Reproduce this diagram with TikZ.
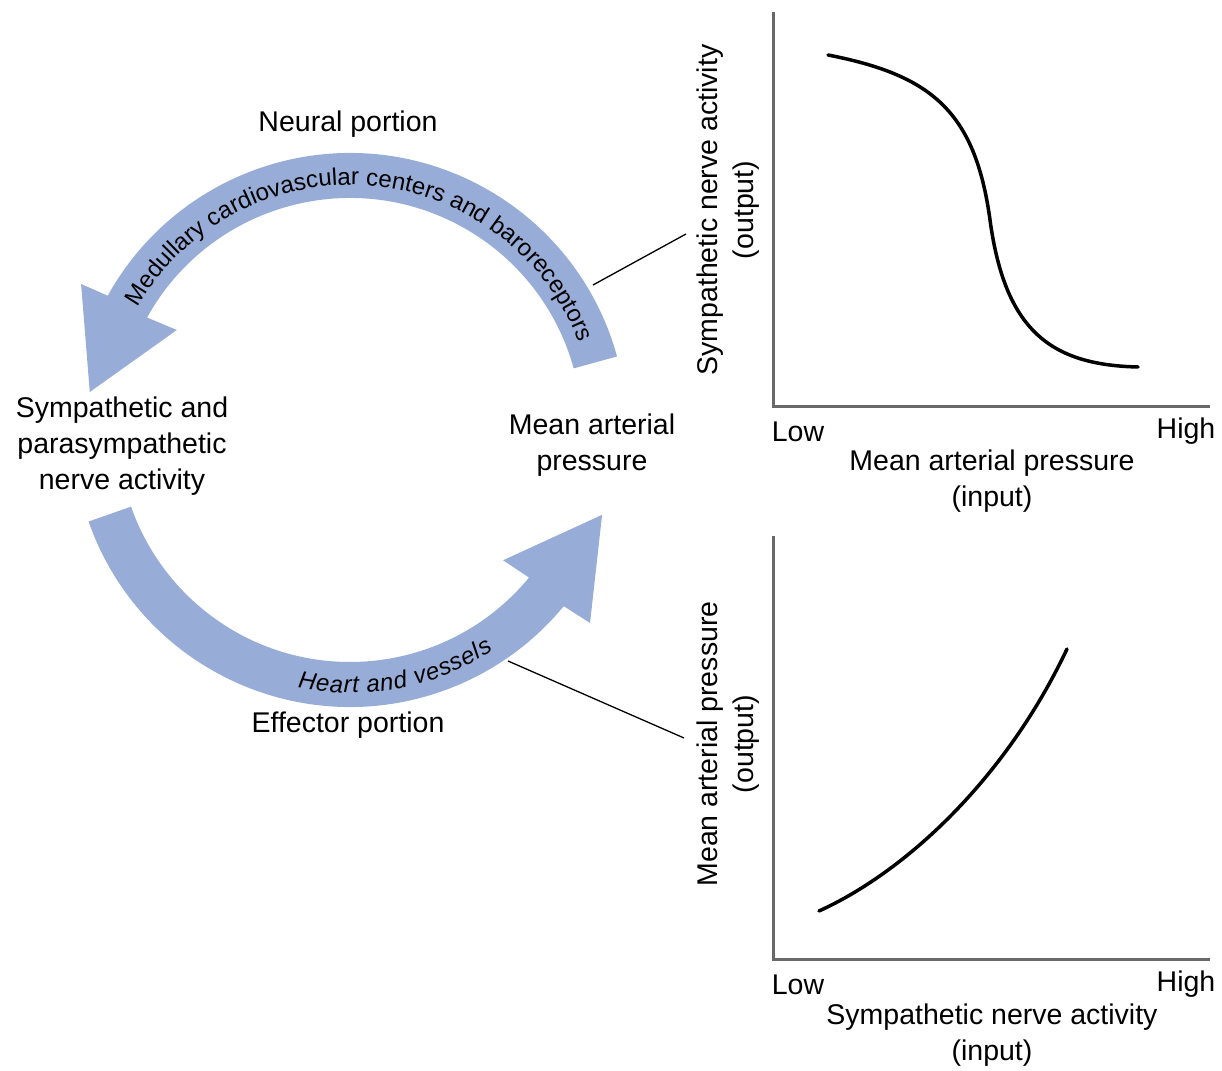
\documentclass[tikz,border=0pt]{standalone}
\usepackage{fontspec}
\setmainfont{Liberation Sans}
\usetikzlibrary{decorations.text}
\definecolor{band}{RGB}{151,173,216}
\definecolor{axisgray}{RGB}{105,105,105}
\begin{document}
\begin{tikzpicture}[x=1pt,y=1pt,
  lbl/.style={font=\fontsize{28.5}{36}\selectfont, align=center, inner sep=0pt},
  axisline/.style={draw=axisgray, line width=3pt},
  curve/.style={draw=black, line width=3.5pt, line cap=round},
  leader/.style={draw=black, line width=1.3pt},
  bandfill/.style={fill=band, draw=none}]
\useasboundingbox (0,0) rectangle (1222,1070);
\coordinate (C) at (350,640);

% neural (upper) band with arrowhead
\path[bandfill] ([shift={(15.4:277)}]C) arc[start angle=15.4, end angle=151, radius=277]
  -- ([shift={(151.5:306)}]C) -- ([shift={(171.7:263)}]C) -- ([shift={(150:200)}]C)
  -- ([shift={(151:232)}]C) arc[start angle=151, end angle=15.4, radius=232] -- cycle;

% effector (lower) band with arrowhead
\path[bandfill] ([shift={(199.3:277)}]C) arc[start angle=199.3, end angle=320.5, radius=277]
  -- ([shift={(321.2:308)}]C) -- ([shift={(341.4:266)}]C) -- ([shift={(319.6:201)}]C)
  -- ([shift={(320.5:232)}]C) arc[start angle=320.5, end angle=199.3, radius=232] -- cycle;

% text along the bands
\path[decorate, decoration={text along path,
   text={|\fontsize{24}{24}\selectfont|Medullary cardiovascular centers and baroreceptors},
   text align={fit to path}}]
   ([shift={(150:245)}]C) arc[start angle=150, end angle=22, radius=245];
\path[decorate, decoration={text along path,
   text={|\itshape\fontsize{24}{24}\selectfont|Heart and vessels},
   text align={fit to path}}]
   ([shift={(-101.5:263)}]C) arc[start angle=-101.5, end angle=-57, radius=263];

% loop labels
\node[lbl] (neural) at (348,946) {Neural portion};
\node[lbl] (symp) at (122,624) {Sympathetic and\\parasympathetic\\nerve activity};
\node[lbl] (map) at (592,625) {Mean arterial\\pressure};
\node[lbl] (effector) at (348,345) {Effector portion};

% top chart
\coordinate (t1) at (773,1058);
\coordinate (o1) at (773,663);
\coordinate (r1) at (1210,663);
\draw[axisline] (t1) -- (o1) -- (r1);
\draw[curve] (828,1015) .. controls (930,995) and (975,960) .. (990,850)
   .. controls (1005,740) and (1050,705) .. (1138,703);
\node[lbl] (low1) at (798,638) {Low};
\node[lbl] (high1) at (1186,639) {High};
\node[lbl] (xl1) at (992,589) {Mean arterial pressure\\(input)};
\node[lbl, rotate=90] (yl1) at (728,860) {Sympathetic nerve activity\\(output)};

% bottom chart
\coordinate (t2) at (773,534);
\coordinate (o2) at (773,110);
\coordinate (r2) at (1210,110);
\draw[axisline] (t2) -- (o2) -- (r2);
\draw[curve] (819,159) .. controls (905,198) and (1005,290) .. (1067,421);
\node[lbl] (low2) at (798,85) {Low};
\node[lbl] (high2) at (1186,86) {High};
\node[lbl] (xl2) at (992,35) {Sympathetic nerve activity\\(input)};
\node[lbl, rotate=90] (yl2) at (728,326) {Mean arterial pressure\\(output)};

% leader lines
\coordinate (nb) at (593,785);
\coordinate (ga) at (686,836);
\coordinate (eb) at (508,409);
\coordinate (gb) at (684,332);
\draw[leader] (nb) -- (ga);
\draw[leader] (eb) -- (gb);
\end{tikzpicture}
\end{document}
